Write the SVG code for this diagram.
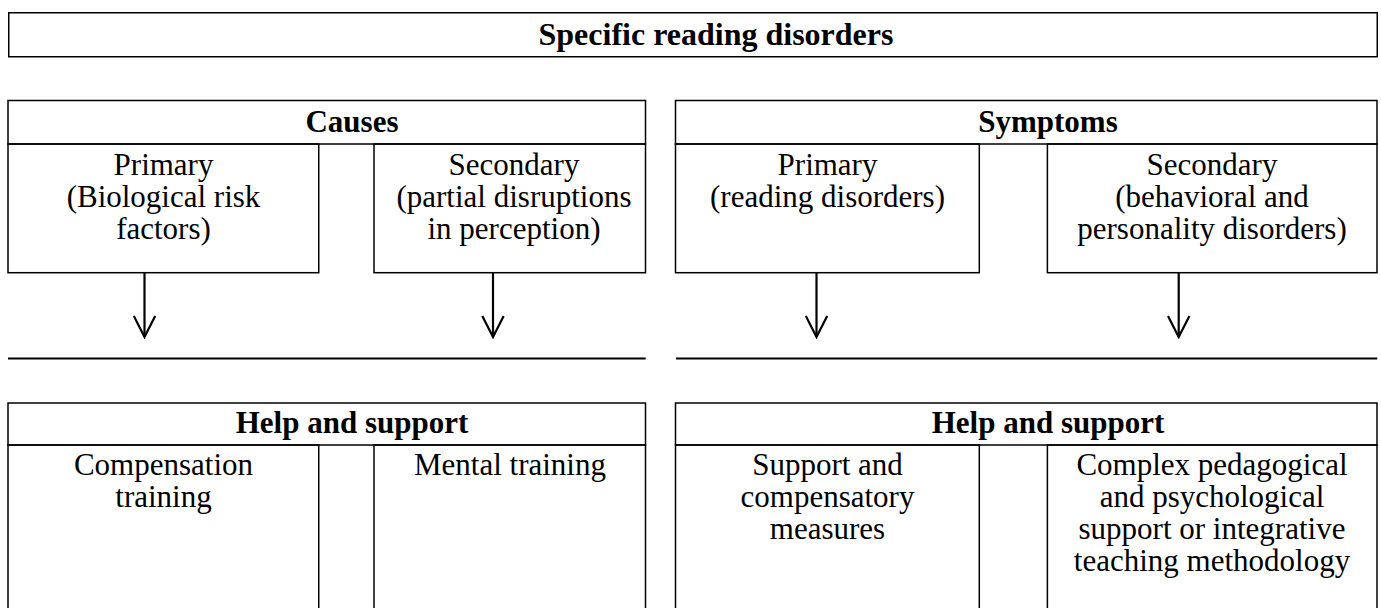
<svg xmlns="http://www.w3.org/2000/svg" width="1381" height="608" viewBox="0 0 1381 608">
  <style>
    .box { fill: none; stroke: #000; stroke-width: 1.5; }
    .rule { stroke: #000; stroke-width: 1.8; fill: none; }
    .arrow { stroke: #000; stroke-width: 2.2; fill: none; }
    .head { font-family: "Liberation Serif", "Times New Roman", serif; font-weight: bold; font-size: 31px; text-anchor: middle; fill: #000; }
    .title { font-size: 32px; }
    .txt { font-family: "Liberation Serif", "Times New Roman", serif; font-size: 31px; text-anchor: middle; fill: #000; }
  </style>
  <defs>
    <!-- open V head; drawn pointing along +x so orient="auto" turns it with the line -->
    <marker id="vee" viewBox="0 0 24 24" refX="22" refY="12" markerWidth="24" markerHeight="24" markerUnits="userSpaceOnUse" orient="auto">
      <path d="M1 1.3 L22 12 L1 22.7" fill="none" stroke="#000" stroke-width="2.2"/>
    </marker>
  </defs>
  <rect width="1381" height="608" fill="#fff"/>

  <!-- Title -->
  <g id="title">
    <rect class="box" x="8.75" y="12.75" width="1368.5" height="44"/>
    <text class="head title" x="716" y="45">Specific reading disorders</text>
  </g>

  <!-- Causes -->
  <g id="causes">
    <rect class="box" x="8" y="100.5" width="637.5" height="43.5"/>
    <text class="head" x="352" y="132">Causes</text>
  </g>
  <g id="causes-primary">
    <rect class="box" x="8" y="144" width="310.75" height="128.7"/>
    <text class="txt" x="163.5" y="175">Primary</text>
    <text class="txt" x="163.5" y="207">(Biological risk</text>
    <text class="txt" x="163.5" y="239">factors)</text>
  </g>
  <g id="causes-secondary">
    <rect class="box" x="374" y="144" width="271.5" height="128.7"/>
    <text class="txt" x="514" y="175">Secondary</text>
    <text class="txt" x="514" y="207">(partial disruptions</text>
    <text class="txt" x="514" y="239">in perception)</text>
  </g>

  <!-- Symptoms -->
  <g id="symptoms">
    <rect class="box" x="675.5" y="100.5" width="701.5" height="43.5"/>
    <text class="head" x="1048" y="132">Symptoms</text>
  </g>
  <g id="symptoms-primary">
    <rect class="box" x="675.5" y="144" width="303.8" height="128.7"/>
    <text class="txt" x="827.5" y="175">Primary</text>
    <text class="txt" x="827.5" y="207">(reading disorders)</text>
  </g>
  <g id="symptoms-secondary">
    <rect class="box" x="1047.4" y="144" width="329.6" height="128.7"/>
    <text class="txt" x="1212" y="175">Secondary</text>
    <text class="txt" x="1212" y="207">(behavioral and</text>
    <text class="txt" x="1212" y="239">personality disorders)</text>
  </g>

  <!-- Help and support, causes side -->
  <g id="help-left">
    <rect class="box" x="8" y="403" width="637.5" height="42"/>
    <text class="head" x="352" y="433">Help and support</text>
  </g>
  <g id="help-compensation">
    <rect class="box" x="8" y="445" width="310.75" height="180"/>
    <text class="txt" x="163.5" y="475">Compensation</text>
    <text class="txt" x="163.5" y="507">training</text>
  </g>
  <g id="help-mental">
    <rect class="box" x="374" y="445" width="271.5" height="180"/>
    <text class="txt" x="510" y="475">Mental training</text>
  </g>

  <!-- Help and support, symptoms side -->
  <g id="help-right">
    <rect class="box" x="675.5" y="403" width="701.5" height="42"/>
    <text class="head" x="1048" y="433">Help and support</text>
  </g>
  <g id="help-measures">
    <rect class="box" x="675.5" y="445" width="303.8" height="180"/>
    <text class="txt" x="827.5" y="475">Support and</text>
    <text class="txt" x="827.5" y="507">compensatory</text>
    <text class="txt" x="827.5" y="539">measures</text>
  </g>
  <g id="help-complex">
    <rect class="box" x="1047.4" y="445" width="329.6" height="180"/>
    <text class="txt" x="1212" y="475">Complex pedagogical</text>
    <text class="txt" x="1212" y="507">and psychological</text>
    <text class="txt" x="1212" y="539">support or integrative</text>
    <text class="txt" x="1212" y="571">teaching methodology</text>
  </g>

  <!-- Connectors: arrows down to the separator rules -->
  <g id="connectors">
    <line class="arrow" x1="144.5" y1="272.7" x2="144.5" y2="337" marker-end="url(#vee)"/>
    <line class="arrow" x1="493" y1="272.7" x2="493" y2="337" marker-end="url(#vee)"/>
    <line class="arrow" x1="816.5" y1="272.7" x2="816.5" y2="337" marker-end="url(#vee)"/>
    <line class="arrow" x1="1178.7" y1="272.7" x2="1178.7" y2="337" marker-end="url(#vee)"/>
    <line class="rule" x1="8" y1="358.5" x2="645.7" y2="358.5"/>
    <line class="rule" x1="676" y1="358.5" x2="1377.3" y2="358.5"/>
  </g>
</svg>
